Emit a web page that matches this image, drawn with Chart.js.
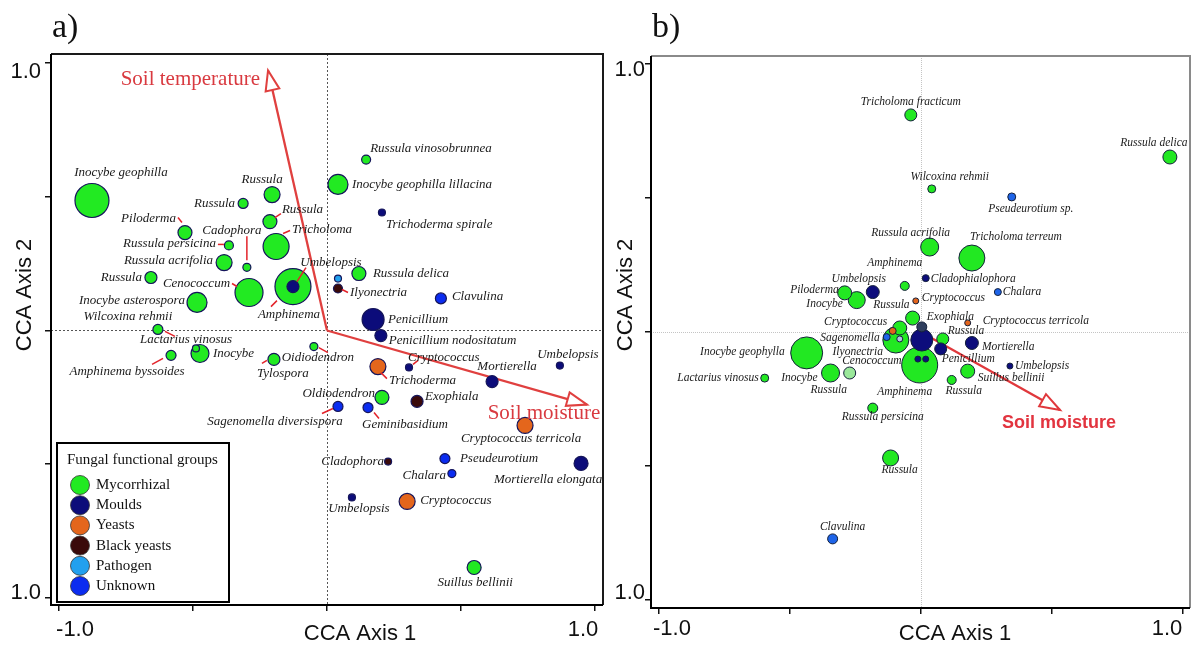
<!DOCTYPE html>
<html>
<head>
<meta charset="utf-8">
<title>CCA biplots of fungal taxa</title>
<script src="https://cdn.jsdelivr.net/npm/chart.js@4.4.1/dist/chart.umd.min.js"></script>
<style>
html,body{margin:0;padding:0;background:#fff;}
body{width:1195px;height:650px;position:relative;overflow:hidden;}
canvas{position:absolute;top:0;}
#chartA{left:0;}
#chartB{left:612px;}
</style>
</head>
<body>
<canvas id="chartA" width="612" height="650" style="width:612px;height:650px"></canvas>
<canvas id="chartB" width="583" height="650" style="width:583px;height:650px"></canvas>
<script>
// ---------- shared ----------
const groups = ['Mycorrhizal', 'Moulds', 'Yeasts', 'Black yeasts', 'Pathogen', 'Unknown'];
const groupColorsA = ['#22ea22', '#0c0c7a', '#e4661c', '#3a0a0a', '#22a0ee', '#0b2cf0'];
const groupsB = ['Mycorrhizal', 'Moulds', 'Yeasts', 'Black yeasts', 'Pathogen', 'Unknown', 'Other'];
const groupColorsB = ['#22e822', '#0d0d7c', '#e2641c', '#2f3e5e', '#b4c4e4', '#1e64e8', '#9ae89a'];
const tickValues = [-1, -0.5, 0, 0.5, 1];
const xTickLabels = ['-1.0', '', '', '', '1.0'];
const yTickLabels = ['1.0', '', '', '', '1.0'];
const axisTitles = ['CCA Axis 1', 'CCA Axis 2'];
const legendTitle = 'Fungal functional groups';

// ---------- panel a data ----------
const namesA = ['Inocybe geophilla','Russula','Russula','Russula','Piloderma','Cadophora','Russula persicina','Russula acrifolia','Russula','Tricholoma',
 'Cenococcum','Amphinema','Umbelopsis','Inocybe asterospora','Wilcoxina rehmii','Lactarius vinosus','Inocybe','Amphinema byssoides','Tylospora','Oidiodendron',
 'Oldiodendron','Russula vinosobrunnea','Inocybe geophilla lillacina','Trichoderma spirale','Russula delica','','Ilyonectria','Clavulina','Penicillium','Penicillium nodositatum',
 'Cryptococcus','Trichoderma','Mortierella','Umbelopsis','Exophiala','Sagenomella diversispora','Geminibasidium','Cryptococcus terricola','Cladophora','Pseudeurotium',
 'Chalara','Mortierella elongata','Umbelopsis','Cryptococcus','Suillus bellinii'];
const xA = [-0.877,-0.205,-0.313,-0.213,-0.530,-0.299,-0.366,-0.384,-0.657,-0.190,
 -0.291,-0.127,-0.127,-0.485,-0.631,-0.489,-0.474,-0.582,-0.198,-0.049,
 0.205,0.146,0.041,0.205,0.119,0.041,0.041,0.425,0.172,0.201,
 0.306,0.190,0.616,0.869,0.336,0.041,0.153,0.739,0.228,0.440,
 0.466,0.948,0.093,0.299,0.549];
const yA = [0.486,0.508,0.475,0.407,0.366,0.236,0.318,0.254,0.198,0.314,
 0.142,0.164,0.164,0.105,0.004,-0.067,-0.086,-0.093,-0.108,-0.060,
 -0.250,0.639,0.546,0.441,0.213,0.194,0.157,0.120,0.041,-0.019,
 -0.138,-0.135,-0.191,-0.131,-0.265,-0.284,-0.288,-0.355,-0.490,-0.479,
 -0.535,-0.497,-0.624,-0.639,-0.886];
const sizeA = [17,8,5,7,7,4,4.5,8,6,13,
 14,18,6,10,5,3.5,9,5,6,4,
 7,4.5,10,3.5,7,3.5,4.5,5.5,11,6,
 3.5,8,6,3.5,6,5,5,8,3.5,5,
 4,7,3.5,8,7];
const groupA = [0,0,0,0,0,0,0,0,0,0,
 0,0,1,0,0,0,0,0,0,0,
 0,0,0,1,0,4,3,5,1,1,
 1,2,1,1,3,5,5,2,3,5,
 5,1,1,2,0];
const envNamesA = ['Soil temperature', 'Soil moisture'];
const envXA = [-0.220, 0.970];
const envYA = [0.972, -0.277];

// ---------- panel b data ----------
const namesB = ['Tricholoma fracticum','Russula delica','Wilcoxina rehmii','Pseudeurotium sp.','Russula acrifolia','Tricholoma terreum','Cladophialophora','Chalara','Amphinema','Umbelopsis',
 'Piloderma','Inocybe','Cryptococcus','Russula','Exophiala','Cryptococcus terricola','','Cenococcum','','Cryptococcus',
 'Sagenomella','Ilyonectria','Amphinema','','','Russula','Penicillium','Mortierella','Umbelopsis','Suillus bellinii',
 'Russula','Russula','Inocybe geophylla','Lactarius vinosus','Inocybe','Russula persicina','Russula','Clavulina'];
const xB = [-0.038,0.950,0.042,0.347,0.034,0.195,0.019,0.294,-0.061,-0.183,
 -0.290,-0.244,-0.019,-0.031,0.004,0.179,0.004,-0.095,-0.080,-0.107,
 -0.130,-0.080,-0.004,-0.011,0.019,0.084,0.076,0.195,0.340,0.179,
 0.118,-0.271,-0.435,-0.595,-0.344,-0.183,-0.115,-0.336];
const yB = [0.810,0.653,0.534,0.504,0.317,0.276,0.201,0.149,0.172,0.149,
 0.146,0.119,0.116,0.052,0.019,0.034,-0.030,-0.030,0.015,0.004,
 -0.019,-0.026,-0.123,-0.101,-0.101,-0.026,-0.063,-0.041,-0.127,-0.146,
 -0.179,-0.153,-0.078,-0.172,-0.153,-0.284,-0.470,-0.772];
const sizeB = [6,7,4,4,9,13,3.5,3.5,4.5,6.5,
 7,8.5,3,7,5,3,11,13,7,3.5,
 3.5,3,18,3,3,6,6,6.5,3,7,
 4.5,6,16,4,9,5,8,5];
const groupB = [0,0,0,5,0,0,1,5,0,1,
 0,0,2,0,3,2,1,0,0,2,
 5,4,0,1,1,0,1,1,1,0,
 0,6,0,0,0,0,0,5];
const envNamesB = ['Soil moisture'];
const envXB = [0.531];
const envYB = [-0.291];

// ---------- label layout (pixel offsets from each mark) ----------
const labelPosA = [[29,-28,'c'],[-10,-15,'c'],[-8,0,'r'],[12,-12,'l'],[-9,-14,'r'],[-15,-37,'c'],[-13,-2,'r'],[-11,-2,'r'],[-9,0,'r'],[16,-17,'l'],
 [-19,-9,'r'],[-4,28,'c'],[38,-24,'c'],[-12,-2,'r'],[-30,-13,'c'],[-10,-9,'c'],[13,0,'l'],[-44,16,'c'],[9,14,'c'],[4,11,'c'],
 [-7,-4,'r'],[4,-11,'l'],[14,0,'l'],[4,12,'l'],[14,0,'l'],null,[12,4,'l'],[11,-2,'l'],[15,0,'l'],[8,5,'l'],
 [-1,-10,'l'],[11,14,'l'],[15,-15,'c'],[8,-11,'c'],[8,-5,'l'],[-63,15,'c'],[37,17,'c'],[-4,13,'c'],[-4,0,'r'],[15,0,'l'],
 [-6,2,'r'],[-33,16,'c'],[7,11,'c'],[13,-1,'l'],[1,15,'c']];
const leadersA = {3:[5,-4,11,-8],4:[-7,-15,-3,-10],5:[0,-31,0,-7],6:[-11,-1,-5,-1],9:[7,-13,14,-16],10:[-17,-9,-12,-6],
 11:[-16,14,-22,20],12:[4,-5,13,-19],15:[-31,-17,-21,-12],17:[-19,9,-8,3],18:[-12,4,-7,1],19:[5,1,14,6],
 26:[4,1,10,4],30:[4,-3,9,-7],31:[3,6,9,12],35:[-16,7,-5,2],36:[6,5,11,11]};
const envLabelPosA = [[-8,9,'r'],[-43,9,'c']];
const labelPosB = [[0,-13,'c'],[-16,-14,'c'],[18,-12,'c'],[19,12,'c'],[-19,-14,'c'],[44,-21,'c'],[5,1,'l'],[5,0,'l'],[-10,-23,'c'],[-14,-13,'c'],
 [-6,-3,'r'],[-14,4,'r'],[6,-3,'l'],[-3,-13,'r'],[5,-10,'l'],[15,-2,'l'],null,[-24,21,'c'],null,[-37,-9,'c'],
 [-7,1,'r'],[-42,13,'c'],[-15,27,'c'],null,null,[5,-8,'l'],[1,10,'l'],[10,4,'l'],[5,0,'l'],[10,7,'l'],
 [12,11,'c'],[-21,17,'c'],[-22,-1,'r'],[-6,0,'r'],[-13,5,'r'],[10,9,'c'],[9,12,'c'],[10,-12,'c']];
const leadersB = {};
const envLabelPosB = [[-1,13,'c']];

// ---------- panel styles ----------
const styleA = {
  key: 'A', title: 'a)', titleX: 52, titleY: 37,
  padTop: 54, padRight: 9, yAxisW: 51, xAxisH: 45,
  xMin: -1.0299, xMax: 1.0299, yMin: -1.0262, yMax: 1.0336,
  labelFont: 'italic 13px "Liberation Serif"', labelColor: '#1a1a1a',
  envFont: '21px "Liberation Serif"', envColor: '#d93a40', arrowColor: '#e0403f', arrowWidth: 2.3,
  headLen: 20, headHalf: 7, leaderColor: '#e3232a',
  zeroColor: '#555', zeroDash: [2, 2], frameTR: '#1a1a1a', pointBorder: '#15155a', pointBorderWidth: 1.2,
  xLabDx: [16,0,0,0,-12], xLabY: 630, yLabDy: [-5,0,0,0,9], yLabRight: -10,
  xTitle: [360, 634], yTitle: [25, 295], legend: true
};
const styleB = {
  key: 'B', title: 'b)', titleX: 40, titleY: 37,
  padTop: 56, padRight: 5, yAxisW: 39, xAxisH: 42,
  xMin: -1.0286, xMax: 1.0267, yMin: -1.0299, yMax: 1.0299,
  labelFont: 'italic 11.5px "Liberation Serif"', labelColor: '#1a1a1a',
  envFont: 'bold 18px "Liberation Sans"', envColor: '#e2343f', arrowColor: '#e0383c', arrowWidth: 2.3,
  headLen: 20, headHalf: 7, leaderColor: '#e3232a',
  zeroColor: '#c4c4c4', zeroDash: [1, 1], frameTR: '#8a8a8a', pointBorder: '#14203a', pointBorderWidth: 1,
  xLabDx: [13.5,0,0,0,-16], xLabY: 629, yLabDy: [-7,0,0,0,6], yLabRight: -6,
  xTitle: [343, 634], yTitle: [14, 295], legend: false
};

const panelA = {names: namesA, xs: xA, ys: yA, sizes: sizeA, groups: groupA, groupNames: groups, colors: groupColorsA,
  labelPos: labelPosA, leaders: leadersA, env: {names: envNamesA, x: envXA, y: envYA, labelPos: envLabelPosA}, style: styleA};
const panelB = {names: namesB, xs: xB, ys: yB, sizes: sizeB, groups: groupB, groupNames: groupsB, colors: groupColorsB,
  labelPos: labelPosB, leaders: leadersB, env: {names: envNamesB, x: envXB, y: envYB, labelPos: envLabelPosB}, style: styleB};

const alignMap = {l: 'left', r: 'right', c: 'center'};

function makePlugin(p) {
  const s = p.style;
  return {
    id: 'cca' + s.key,
    beforeDatasetsDraw(chart) {
      const {ctx, chartArea: ca, scales: {x, y}} = chart;
      ctx.save();
      ctx.strokeStyle = s.zeroColor; ctx.lineWidth = 1; ctx.setLineDash(s.zeroDash);
      const x0 = Math.round(x.getPixelForValue(0)) + 0.5;
      const y0 = Math.round(y.getPixelForValue(0)) + 0.5;
      ctx.beginPath();
      ctx.moveTo(x0, ca.top); ctx.lineTo(x0, ca.bottom);
      ctx.moveTo(ca.left, y0); ctx.lineTo(ca.right, y0);
      ctx.stroke();
      ctx.restore();
    },
    afterDatasetsDraw(chart) {
      const {ctx, scales: {x, y}} = chart;
      ctx.save();
      ctx.strokeStyle = s.leaderColor; ctx.lineWidth = 1.5;
      Object.keys(p.leaders).forEach(k => {
        const i = +k, L = p.leaders[k];
        const px = x.getPixelForValue(p.xs[i]), py = y.getPixelForValue(p.ys[i]);
        ctx.beginPath(); ctx.moveTo(px + L[0], py + L[1]); ctx.lineTo(px + L[2], py + L[3]); ctx.stroke();
      });
      ctx.font = s.labelFont; ctx.fillStyle = s.labelColor; ctx.textBaseline = 'middle';
      p.names.forEach((n, i) => {
        const lp = p.labelPos[i];
        if (!n || !lp) return;
        const px = x.getPixelForValue(p.xs[i]), py = y.getPixelForValue(p.ys[i]);
        ctx.textAlign = alignMap[lp[2]];
        ctx.fillText(n, px + lp[0], py + lp[1]);
      });
      const ox = x.getPixelForValue(0), oy = y.getPixelForValue(0);
      p.env.names.forEach((n, k) => {
        const tx = x.getPixelForValue(p.env.x[k]), ty = y.getPixelForValue(p.env.y[k]);
        const a = Math.atan2(ty - oy, tx - ox);
        const L = s.headLen, W = s.headHalf;
        const bx = tx - L * Math.cos(a), by = ty - L * Math.sin(a);
        ctx.beginPath();
        ctx.moveTo(tx, ty);
        ctx.lineTo(bx + W * Math.sin(a), by - W * Math.cos(a));
        ctx.lineTo(bx - W * Math.sin(a), by + W * Math.cos(a));
        ctx.closePath();
        ctx.fillStyle = '#fff'; ctx.fill();
        ctx.strokeStyle = s.arrowColor; ctx.lineWidth = 2; ctx.lineJoin = 'miter'; ctx.stroke();
        const el = p.env.labelPos[k];
        ctx.font = s.envFont; ctx.fillStyle = s.envColor; ctx.textAlign = alignMap[el[2]]; ctx.textBaseline = 'middle';
        ctx.fillText(n, tx + el[0], ty + el[1]);
      });
      ctx.restore();
    },
    afterDraw(chart) {
      const {ctx, chartArea: ca, scales: {x, y}} = chart;
      ctx.save();
      // frame
      ctx.lineWidth = 2; ctx.strokeStyle = s.frameTR;
      ctx.beginPath(); ctx.moveTo(ca.left, ca.top); ctx.lineTo(ca.right, ca.top); ctx.lineTo(ca.right, ca.bottom); ctx.stroke();
      ctx.strokeStyle = '#000';
      ctx.beginPath(); ctx.moveTo(ca.left, ca.top); ctx.lineTo(ca.left, ca.bottom); ctx.lineTo(ca.right, ca.bottom); ctx.stroke();
      // tick labels
      ctx.font = '22px "Liberation Sans"'; ctx.fillStyle = '#111'; ctx.textBaseline = 'middle';
      tickValues.forEach((v, i) => {
        if (xTickLabels[i]) {
          ctx.textAlign = 'center';
          ctx.fillText(xTickLabels[i], x.getPixelForValue(v) + s.xLabDx[i], s.xLabY);
        }
        if (yTickLabels[i]) {
          ctx.textAlign = 'right';
          ctx.fillText(yTickLabels[i], ca.left + s.yLabRight, y.getPixelForValue(v) + s.yLabDy[i]);
        }
      });
      // axis titles
      ctx.textAlign = 'center';
      ctx.fillText(axisTitles[0], s.xTitle[0], s.xTitle[1]);
      ctx.save();
      ctx.translate(s.yTitle[0], s.yTitle[1]); ctx.rotate(-Math.PI / 2);
      ctx.fillText(axisTitles[1], 0, 0);
      ctx.restore();
      // panel title
      ctx.font = '34px "Liberation Serif"'; ctx.textAlign = 'left'; ctx.textBaseline = 'alphabetic'; ctx.fillStyle = '#111';
      ctx.fillText(s.title, s.titleX, s.titleY);
      // legend
      if (s.legend) {
        const lx = ca.left + 6, ly = ca.bottom - 162, lw = 172, lh = 159;
        ctx.fillStyle = '#fff'; ctx.fillRect(lx, ly, lw, lh);
        ctx.strokeStyle = '#000'; ctx.lineWidth = 2; ctx.strokeRect(lx, ly, lw, lh);
        ctx.font = '15px "Liberation Serif"'; ctx.fillStyle = '#111'; ctx.textBaseline = 'middle'; ctx.textAlign = 'left';
        ctx.fillText(legendTitle, lx + 10, ly + 17);
        groups.forEach((g, i) => {
          const cy = ly + 42 + i * 20.2;
          ctx.beginPath(); ctx.arc(lx + 23, cy, 9.5, 0, Math.PI * 2);
          ctx.fillStyle = groupColorsA[i]; ctx.fill();
          ctx.strokeStyle = '#333'; ctx.lineWidth = 0.8; ctx.stroke();
          ctx.fillStyle = '#111';
          ctx.fillText(g, lx + 39, cy);
        });
      }
      ctx.restore();
    }
  };
}

function axisCfg(dir, s) {
  return {
    type: 'linear', position: dir === 'x' ? 'bottom' : 'left',
    min: dir === 'x' ? s.xMin : s.yMin,
    max: dir === 'x' ? s.xMax : s.yMax,
    afterBuildTicks: sc => { sc.ticks = tickValues.map(v => ({value: v})); },
    afterFit: sc => { if (dir === 'x') sc.height = s.xAxisH; else sc.width = s.yAxisW; },
    ticks: {display: false},
    grid: {drawOnChartArea: false, drawTicks: true, tickLength: 6, color: '#111', lineWidth: 1.5},
    border: {display: false}
  };
}

function makeChart(canvasId, p) {
  const s = p.style;
  const datasets = [];
  p.env.names.forEach((n, k) => datasets.push({
    type: 'line', label: n, data: [{x: 0, y: 0}, {x: p.env.x[k], y: p.env.y[k]}],
    borderColor: s.arrowColor, borderWidth: s.arrowWidth, pointRadius: 0, fill: false, tension: 0, order: 1000
  }));
  p.groupNames.forEach((g, gi) => {
    const idx = p.names.map((_, i) => i).filter(i => p.groups[i] === gi).sort((a, b) => p.sizes[b] - p.sizes[a]);
    datasets.push({
      type: 'bubble', label: g,
      data: idx.map(i => ({x: p.xs[i], y: p.ys[i], r: p.sizes[i]})),
      backgroundColor: p.colors[gi], borderColor: s.pointBorder, borderWidth: s.pointBorderWidth, order: 100 - gi
    });
  });
  return new Chart(document.getElementById(canvasId), {
    type: 'bubble',
    data: {datasets},
    options: {
      responsive: false, animation: false, devicePixelRatio: 1, events: [],
      layout: {autoPadding: false, padding: {top: s.padTop, right: s.padRight, left: 0, bottom: 0}},
      plugins: {legend: {display: false}, tooltip: {enabled: false}},
      scales: {x: axisCfg('x', s), y: axisCfg('y', s)}
    },
    plugins: [makePlugin(p)]
  });
}

makeChart('chartA', panelA);
makeChart('chartB', panelB);
</script>
</body>
</html>
